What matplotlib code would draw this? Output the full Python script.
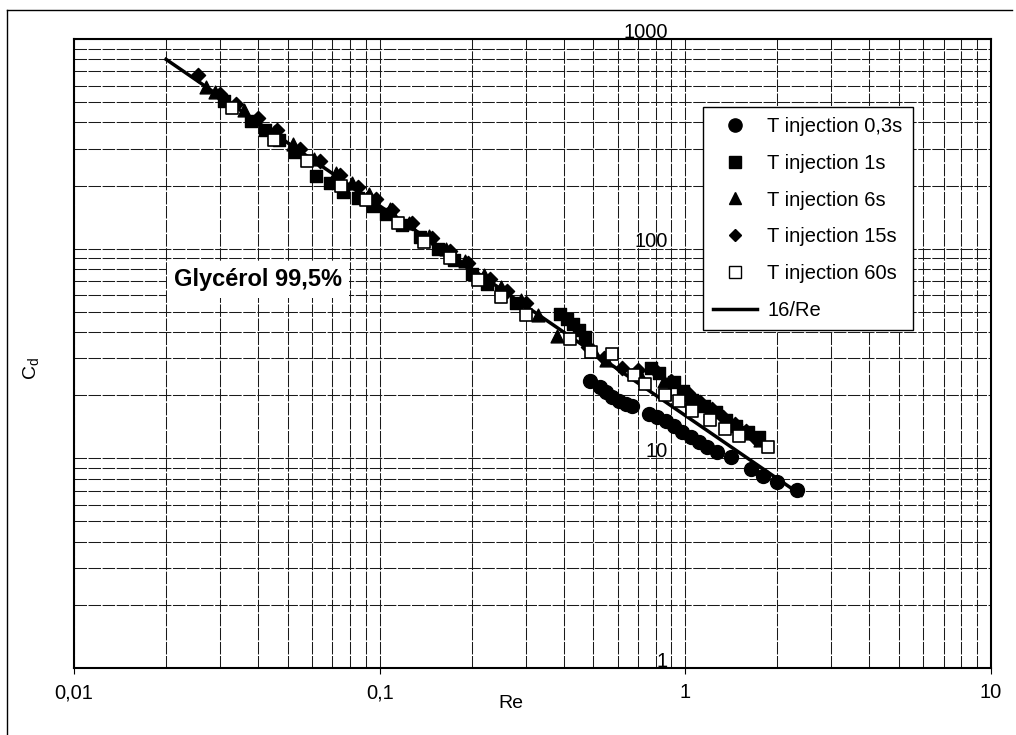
import matplotlib.pyplot as plt
import numpy as np
from matplotlib.ticker import LogLocator, NullFormatter, FixedLocator
from matplotlib.lines import Line2D

plt.rcParams['font.family'] = ['Liberation Sans', 'DejaVu Sans']

# T injection 0,3s (cercles)
re_03 = [0.489, 0.524, 0.552, 0.577, 0.608, 0.641, 0.671, 0.763, 0.810, 0.867, 0.921,
         0.978, 1.046, 1.111, 1.18, 1.27, 1.41, 1.64, 1.79, 2.0, 2.32]
cd_03 = [23.3, 22.0, 20.8, 19.7, 18.7, 18.1, 17.7, 16.2, 15.7, 15.0, 14.2,
         13.4, 12.7, 11.9, 11.3, 10.7, 10.1, 8.9, 8.2, 7.7, 7.1]

# T injection 1s (carres pleins)
re_1 = [0.031, 0.038, 0.042, 0.047, 0.053, 0.062, 0.069, 0.076, 0.085, 0.095, 0.105,
        0.118, 0.135, 0.155, 0.175, 0.20, 0.225, 0.25, 0.28, 0.39, 0.41, 0.43, 0.45,
        0.47, 0.77, 0.82, 0.92, 0.98, 1.05, 1.15, 1.26, 1.36, 1.47, 1.6, 1.74]
cd_1 = [505, 405, 370, 330, 290, 222, 206, 186, 175, 160, 146,
        130, 114, 100, 88, 76, 68, 62, 55, 49, 46, 43.5, 41,
        38, 27, 25.5, 23, 21, 19, 17.8, 16.6, 15.3, 14.2, 13.3, 12.6]

# T injection 6s (triangles)
re_6 = [0.027, 0.029, 0.036, 0.045, 0.052, 0.061, 0.072, 0.081, 0.092, 0.108, 0.125,
        0.145, 0.165, 0.19, 0.22, 0.25, 0.29, 0.33, 0.379, 0.50, 0.55, 0.70, 0.85,
        1.0, 1.2, 1.4, 1.6, 1.75]
cd_6 = [590, 560, 460, 360, 315, 268, 230, 205, 182, 155, 133,
        115, 100, 87, 75, 66, 57, 48, 38.5, 33, 29.5, 26, 23.5,
        20, 17, 14.8, 13.2, 12.2]

# T injection 15s (losanges)
re_15 = [0.0254, 0.030, 0.034, 0.040, 0.046, 0.055, 0.064, 0.074, 0.085, 0.097, 0.11,
         0.128, 0.148, 0.17, 0.195, 0.23, 0.26, 0.30, 0.48, 0.54, 0.62, 0.70, 0.80,
         0.90, 1.02, 1.12, 1.22, 1.33, 1.45, 1.58, 1.70]
cd_15 = [670, 545, 490, 420, 370, 300, 262, 225, 196, 172, 153,
         132, 113, 98, 85, 72, 63, 55, 34, 30, 27, 26.5, 26,
         23.5, 20.5, 18.5, 17.2, 15.8, 14.5, 13.5, 12.3]

# T injection 60s (carres vides)
re_60 = [0.033, 0.045, 0.058, 0.075, 0.09, 0.115, 0.14, 0.17, 0.21, 0.25, 0.30,
         0.42, 0.49, 0.577, 0.68, 0.74, 0.86, 0.95, 1.05, 1.2, 1.35, 1.5, 1.87]
cd_60 = [470, 330, 262, 200, 170, 132, 108, 90, 71, 59, 48.5,
         37, 32, 31.3, 25, 22.5, 20, 18.8, 16.8, 15.2, 13.8, 12.8, 11.3]

# droite 16/Re
re_line = [0.02, 2.4]
cd_line = [16 / r for r in re_line]

x_ticks = [0.01, 0.1, 1, 10]
x_labels = ['0,01', '0,1', '1', '10']
y_ticks = [1, 10, 100, 1000]
y_labels = ['1', '10', '100', '1000']

fig = plt.figure(figsize=(10.16, 7.35), dpi=100)
ax = fig.add_axes([74 / 1016, 1 - 668 / 735, 917 / 1016, 629 / 735])
ax.set_xscale('log')
ax.set_yscale('log')
ax.set_xlim(0.01, 10)
ax.set_ylim(1, 1000)

grid_style = dict(color='0.1', linewidth=0.75, linestyle=(0, (12, 1.5)))
ax.xaxis.set_minor_locator(LogLocator(base=10, subs=np.arange(2, 10)))
ax.yaxis.set_minor_locator(LogLocator(base=10, subs=np.arange(2, 10)))
ax.xaxis.set_minor_formatter(NullFormatter())
ax.yaxis.set_minor_formatter(NullFormatter())
ax.grid(True, which='major', **grid_style)
ax.grid(True, which='minor', **grid_style)
ax.set_axisbelow(True)

ax.xaxis.set_major_locator(FixedLocator(x_ticks))
ax.set_xticklabels(x_labels, fontsize=14.5)
ax.tick_params(axis='x', which='major', length=4, pad=7, direction='out')
ax.tick_params(axis='x', which='minor', length=0)
ax.tick_params(axis='y', which='both', length=0, labelleft=False)
for s in ax.spines.values():
    s.set_linewidth(1.5)

# etiquettes de l'axe vertical placees a Re = 1
for v, lab in zip(y_ticks, y_labels):
    ax.text(0.875, v * 1.015, lab, ha='right', va='baseline', fontsize=14.5, clip_on=False)

ax.plot(re_line, cd_line, color='black', linewidth=2.5, zorder=3, label='16/Re')
ax.scatter(re_03, cd_03, marker='o', s=100, color='black', zorder=4, label='T injection 0,3s')
ax.scatter(re_1, cd_1, marker='s', s=72, color='black', zorder=4, label='T injection 1s')
ax.scatter(re_6, cd_6, marker='^', s=85, color='black', zorder=4, label='T injection 6s')
ax.scatter(re_15, cd_15, marker='D', s=52, color='black', zorder=4, label='T injection 15s')
ax.scatter(re_60, cd_60, marker='s', s=72, facecolor='white', edgecolor='black',
           linewidth=1.2, zorder=4, label='T injection 60s')

handles = [
    Line2D([], [], marker='o', color='black', linestyle='none', markersize=9.5),
    Line2D([], [], marker='s', color='black', linestyle='none', markersize=8),
    Line2D([], [], marker='^', color='black', linestyle='none', markersize=8.5),
    Line2D([], [], marker='D', color='black', linestyle='none', markersize=6.5),
    Line2D([], [], marker='s', markerfacecolor='white', markeredgecolor='black',
           linestyle='none', markersize=8),
    Line2D([], [], color='black', linewidth=2.5),
]
labels = ['T injection 0,3s', 'T injection 1s', 'T injection 6s',
          'T injection 15s', 'T injection 60s', '16/Re']
leg = ax.legend(handles, labels, loc='upper left',
                bbox_to_anchor=(703 / 1016, 1 - 107 / 735), bbox_transform=fig.transFigure,
                fontsize=14.5, frameon=True, fancybox=False, edgecolor='black',
                framealpha=1, labelspacing=0.88, handlelength=2.2, handletextpad=0.5,
                borderpad=0.5, borderaxespad=0)
leg.get_frame().set_linewidth(1.0)

ax.text(0.0212, 71, 'Glycérol 99,5%', fontsize=17, fontweight='bold', ha='left',
        va='center', zorder=5,
        bbox=dict(facecolor='white', edgecolor='none', pad=5))

fig.text(511 / 1016, 1 - 703 / 735, 'Re', ha='center', va='center', fontsize=14)
fig.text(32 / 1016, 1 - 368 / 735, r'C$_\mathregular{d}$', ha='center', va='center',
         fontsize=14, rotation=90)

# cadre exterieur
fig.add_artist(Line2D([7 / 1016, 1012 / 1016], [1 - 10 / 735, 1 - 10 / 735],
                      transform=fig.transFigure, color='black', linewidth=1.0))
fig.add_artist(Line2D([7 / 1016, 7 / 1016], [1 - 10 / 735, 0], transform=fig.transFigure,
                      color='black', linewidth=1.0))

fig.savefig('out.png', dpi=100)
